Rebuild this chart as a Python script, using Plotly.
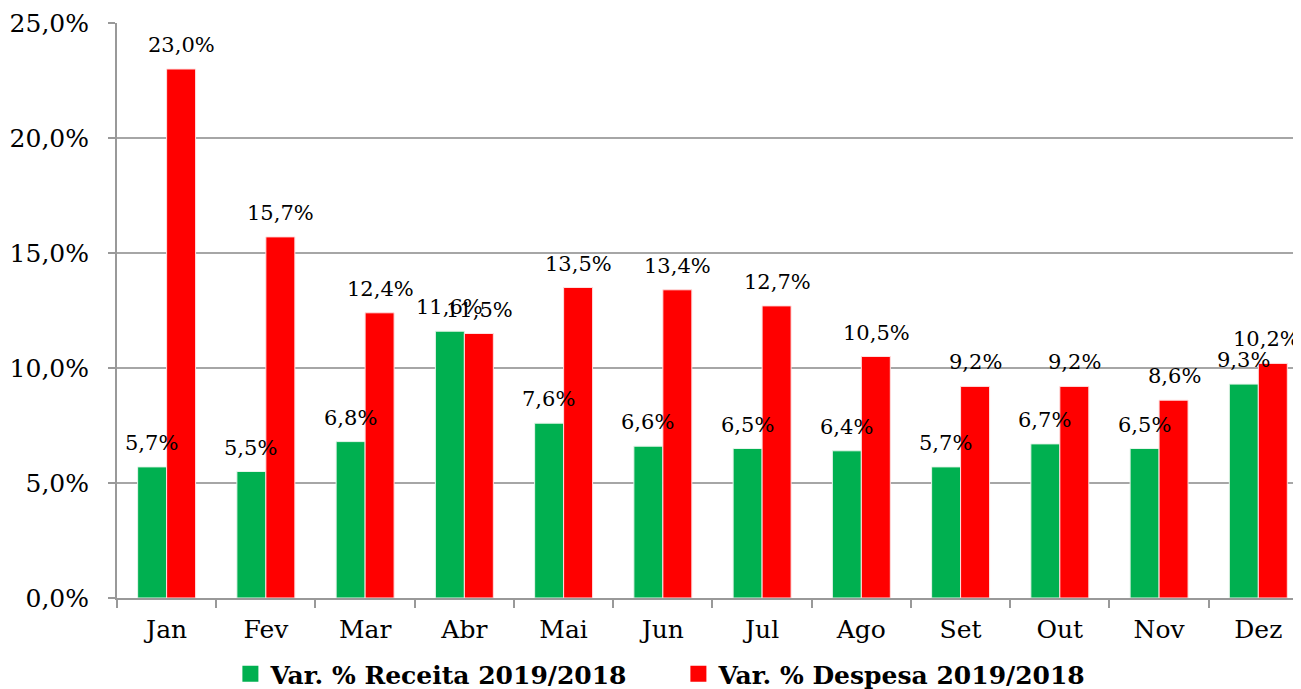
import plotly.graph_objects as go

meses = ["Jan", "Fev", "Mar", "Abr", "Mai", "Jun", "Jul", "Ago", "Set", "Out", "Nov", "Dez"]
receita = [5.7, 5.5, 6.8, 11.6, 7.6, 6.6, 6.5, 6.4, 5.7, 6.7, 6.5, 9.3]
despesa = [23.0, 15.7, 12.4, 11.5, 13.5, 13.4, 12.7, 10.5, 9.2, 9.2, 8.6, 10.2]
nome_receita = "Var. % Receita 2019/2018"
nome_despesa = "Var. % Despesa 2019/2018"
y_ticks = [0, 5, 10, 15, 20, 25]

FONT = "DejaVu Serif"
GREEN = "#00B050"
RED = "#FF0000"


def fmt(v):
    return f"{v:.1f}".replace(".", ",") + "%"


fig = go.Figure()
fig.add_trace(go.Bar(x=meses, y=receita, name=nome_receita, showlegend=False,
                     marker=dict(color=GREEN, line=dict(color="#e6f5ea", width=1))))
fig.add_trace(go.Bar(x=meses, y=despesa, name=nome_despesa, showlegend=False,
                     marker=dict(color=RED, line=dict(color="#ffe0e0", width=1))))
# legend entries with larger square symbols
fig.add_trace(go.Scatter(x=[None], y=[None], mode="markers", name=nome_receita,
                         marker=dict(symbol="square", size=16, color=GREEN)))
fig.add_trace(go.Scatter(x=[None], y=[None], mode="markers", name=nome_despesa,
                         marker=dict(symbol="square", size=16, color=RED)))

ann = []
n = len(meses)
for i, (m, r, d) in enumerate(zip(meses, receita, despesa)):
    ann.append(dict(x=m, y=r, text=fmt(r), xshift=-15, yshift=10, yanchor="bottom",
                    showarrow=False, font=dict(family=FONT, size=21, color="#000")))
    ann.append(dict(x=m, y=d, text=fmt(d), xshift=15 if i < n - 1 else 8, yshift=10,
                    yanchor="bottom", showarrow=False,
                    font=dict(family=FONT, size=21, color="#000")))

fig.update_layout(
    width=1293, height=681,
    margin=dict(l=109, r=0, t=15, b=91, autoexpand=False),
    paper_bgcolor="white", plot_bgcolor="white",
    barmode="group", bargap=0.416, bargroupgap=0,
    separators=",.",
    font=dict(family=FONT, size=25, color="#000"),
    annotations=ann,
    showlegend=True,
    legend=dict(orientation="h", xref="container", x=0.172, xanchor="left",
                yref="container", y=0.022, yanchor="middle",
                font=dict(family=FONT, size=25, color="#000", weight="bold"),
                itemsizing="trace", traceorder="normal", itemwidth=30,
                entrywidth=403, tracegroupgap=0),
    xaxis=dict(range=[-0.5, 11.43], showgrid=False, showline=True, linecolor="#999", linewidth=2,
               ticks="outside", tickson="boundaries", ticklen=8, tickcolor="#999", tickwidth=2,
               ticklabelstandoff=8, tickfont=dict(family=FONT, size=25)),
    yaxis=dict(range=[0, 25], tickmode="array", tickvals=y_ticks,
               ticktext=[fmt(v) for v in y_ticks],
               showgrid=True, gridcolor="#a6a6a6", gridwidth=2,
               showline=True, linecolor="#999", linewidth=2,
               ticks="outside", ticklen=7, tickcolor="#999", tickwidth=2,
               ticklabelstandoff=14, tickfont=dict(family=FONT, size=25), zeroline=False),
)

fig.write_html("out.html")
